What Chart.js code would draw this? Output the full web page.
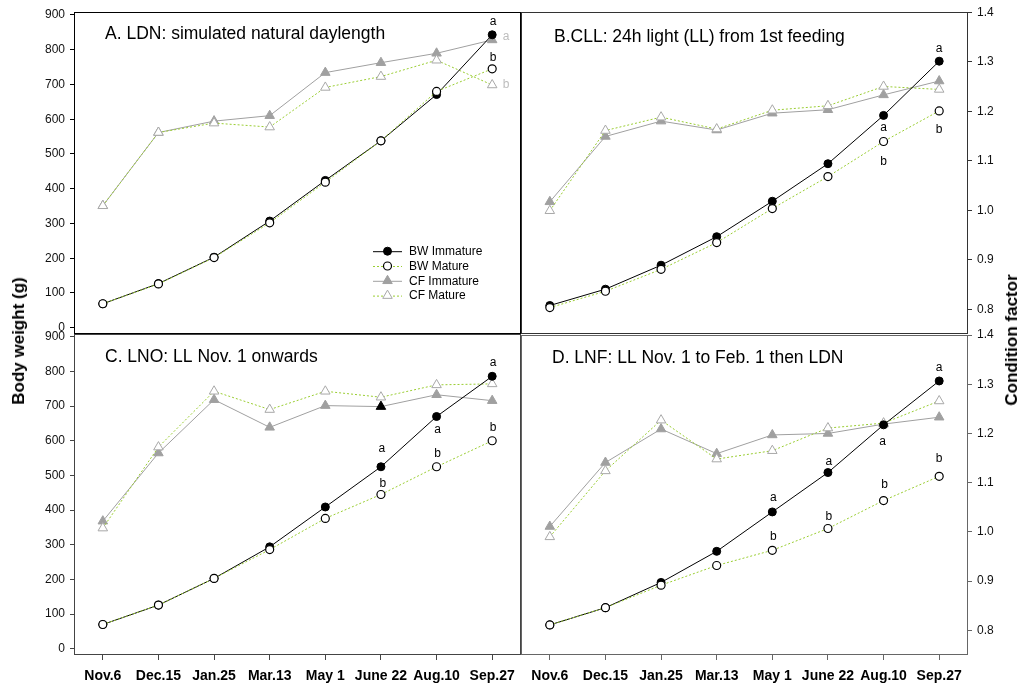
<!DOCTYPE html>
<html>
<head>
<meta charset="utf-8">
<title>Body weight and condition factor under four light regimes</title>
<script src="https://cdn.jsdelivr.net/npm/chart.js@4.4.1/dist/chart.umd.min.js"></script>
<style>
  html, body { margin: 0; padding: 0; background: #fff; }
  #wrap { position: relative; width: 1021px; height: 688px; overflow: hidden; background: #fff; }
  #wrap canvas { position: absolute; left: 0; top: 0; }
  .ytitle {
    position: absolute;
    font: bold 17px "Liberation Sans", Arial, Helvetica, sans-serif;
    color: #000;
    white-space: nowrap;
    transform: translate(-50%, -50%) rotate(-90deg);
  }
</style>
</head>
<body>
<div id="wrap">
  <canvas id="panelA" width="1021" height="688"></canvas>
  <canvas id="panelB" width="1021" height="688"></canvas>
  <canvas id="panelC" width="1021" height="688"></canvas>
  <canvas id="panelD" width="1021" height="688"></canvas>
  <div class="ytitle" style="left:19px; top:341px;">Body weight (g)</div>
  <div class="ytitle" style="left:1012px; top:340px;">Condition factor</div>
</div>
<script>
// Sampling dates (x categories)
const dates = ['Nov.6', 'Dec.15', 'Jan.25', 'Mar.13', 'May 1', 'June 22', 'Aug.10', 'Sep.27'];

// Axis ticks
const bwTicks = [0, 100, 200, 300, 400, 500, 600, 700, 800, 900];
const cfTicks = [0.8, 0.9, 1.0, 1.1, 1.2, 1.3, 1.4];

// A. LDN: simulated natural daylength
const ldnBwImmature = [69, 127, 203, 307, 424, 538, 671, 843];
const ldnBwMature   = [69, 126, 202, 302, 419, 538, 680, 745];
const ldnCfImmature = [1.009, 1.157, 1.180, 1.191, 1.278, 1.298, 1.317, 1.344];
const ldnCfMature   = [1.009, 1.157, 1.176, 1.168, 1.248, 1.270, 1.303, 1.253];

// B. CLL: 24h light from first feeding
const cllBwImmature = [64, 111, 180, 262, 364, 472, 611, 767];
const cllBwMature   = [58, 105, 168, 245, 343, 435, 536, 624];
const cllCfImmature = [1.017, 1.149, 1.180, 1.162, 1.196, 1.203, 1.233, 1.261];
const cllCfMature   = [0.999, 1.161, 1.188, 1.164, 1.202, 1.211, 1.250, 1.244];

// C. LNO: LL from Nov. 1 onwards
const lnoBwImmature = [70, 126, 203, 294, 409, 525, 670, 786];
const lnoBwMature   = [70, 126, 203, 286, 376, 445, 525, 600];
const lnoCfImmature = [1.021, 1.159, 1.267, 1.211, 1.255, 1.253, 1.277, 1.265];
const lnoCfMature   = [1.007, 1.171, 1.284, 1.247, 1.284, 1.272, 1.297, 1.299];

// D. LNF: LL Nov. 1 to Feb. 1, then LDN
const lnfBwImmature = [69, 119, 192, 282, 396, 510, 648, 775];
const lnfBwMature   = [69, 119, 184, 241, 285, 348, 429, 499];
const lnfCfImmature = [1.011, 1.141, 1.209, 1.159, 1.197, 1.200, 1.219, 1.233];
const lnfCfMature   = [0.990, 1.124, 1.227, 1.148, 1.165, 1.211, 1.221, 1.266];

// Significance letters: [series, date index, letter]
const ldnLetters = [['bwImm', 7, 'a'], ['bwMat', 7, 'b'], ['cfImm', 7, 'a'], ['cfMat', 7, 'b']];
const cllLetters = [['bwImm', 7, 'a'], ['bwImm', 6, 'a'], ['bwMat', 6, 'b'], ['bwMat', 7, 'b']];
const lnoLetters = [['bwImm', 5, 'a'], ['bwMat', 5, 'b'], ['bwImm', 6, 'a'], ['bwMat', 6, 'b'],
                    ['bwImm', 7, 'a'], ['bwMat', 7, 'b']];
const lnfLetters = [['bwImm', 4, 'a'], ['bwMat', 4, 'b'], ['bwImm', 5, 'a'], ['bwMat', 5, 'b'],
                    ['bwImm', 6, 'a'], ['bwMat', 6, 'b'], ['bwImm', 7, 'a'], ['bwMat', 7, 'b']];

// Series names for the legend
const seriesNames = { bwImm: 'BW Immature', bwMat: 'BW Mature', cfImm: 'CF Immature', cfMat: 'CF Mature' };

const FONT = '"Liberation Sans", Arial, Helvetica, sans-serif';
const W = 1021, H = 688;
const Y_AXIS_W = 40, X_AXIS_H = 33;
const GREEN = '#9acd32';
const GRAY = '#a0a0a0';

function buildDatasets(bwImm, bwMat, cfImm, cfMat, darkCfPoint) {
  const cfImmFill = cfImm.map((v, i) => (i === darkCfPoint ? '#000' : GRAY));
  return [
    { key: 'bwMat', label: seriesNames.bwMat, data: bwMat, yAxisID: 'bw', order: 1,
      borderColor: GREEN, borderWidth: 1, borderDash: [2, 2],
      pointStyle: 'circle', pointRadius: 4, pointBorderWidth: 1.2,
      pointBorderColor: '#000', pointBackgroundColor: '#fff' },
    { key: 'bwImm', label: seriesNames.bwImm, data: bwImm, yAxisID: 'bw', order: 2,
      borderColor: '#000', borderWidth: 1,
      pointStyle: 'circle', pointRadius: 4, pointBorderWidth: 1,
      pointBorderColor: '#000', pointBackgroundColor: '#000' },
    { key: 'cfMat', label: seriesNames.cfMat, data: cfMat, yAxisID: 'cf', order: 3,
      borderColor: GREEN, borderWidth: 1, borderDash: [2, 2],
      pointStyle: 'triangle', pointRadius: 5.5, pointBorderWidth: 1,
      pointBorderColor: '#a8a8a8', pointBackgroundColor: '#fff' },
    { key: 'cfImm', label: seriesNames.cfImm, data: cfImm, yAxisID: 'cf', order: 4,
      borderColor: GRAY, borderWidth: 1,
      pointStyle: 'triangle', pointRadius: 5.5, pointBorderWidth: 1,
      pointBorderColor: cfImmFill, pointBackgroundColor: cfImmFill }
  ].map(d => Object.assign({ tension: 0, fill: false, showLine: true, pointHoverRadius: 0 }, d));
}

// Frame, panel title, significance letters and (optional) legend
function decorPlugin(p) {
  return {
    id: 'panelDecor',
    afterDatasetsDraw(chart) {
      const ctx = chart.ctx;
      const a = chart.chartArea;
      const byKey = {};
      chart.data.datasets.forEach((d, i) => { byKey[d.key] = i; });
      ctx.save();

      // frame
      ctx.strokeStyle = p.frameColor;
      ctx.lineWidth = 1;
      ctx.setLineDash([]);
      ctx.strokeRect(Math.round(a.left) - 0.5, Math.round(a.top) + 0.5,
                     Math.round(a.right - a.left) + 1, Math.round(a.bottom - a.top) - 1);

      // title
      ctx.fillStyle = '#000';
      ctx.font = '17.5px ' + FONT;
      ctx.textAlign = 'left';
      ctx.textBaseline = 'alphabetic';
      ctx.fillText(p.title, a.left + p.titleDx, a.top + p.titleDy);

      // letters
      ctx.font = '12px ' + FONT;
      ctx.textAlign = 'center';
      ctx.textBaseline = 'middle';
      p.letters.forEach(([key, idx, txt], n) => {
        const pt = chart.getDatasetMeta(byKey[key]).data[idx];
        const off = p.letterOffsets[n];
        ctx.fillStyle = key.startsWith('cf') ? '#bdbdbd' : '#000';
        ctx.fillText(txt, pt.x + off[0], pt.y + off[1]);
      });

      // legend
      if (p.legend) {
        const x0 = a.left + 298, y0 = a.top + 239, step = 14.8;
        ['bwImm', 'bwMat', 'cfImm', 'cfMat'].forEach((key, r) => {
          const d = chart.data.datasets[byKey[key]];
          const y = y0 + r * step;
          ctx.strokeStyle = d.borderColor;
          ctx.lineWidth = d.borderWidth;
          ctx.setLineDash(d.borderDash || []);
          ctx.beginPath();
          ctx.moveTo(x0, y + 0.5);
          ctx.lineTo(x0 + 29, y + 0.5);
          ctx.stroke();
          ctx.setLineDash([]);
          const fill = Array.isArray(d.pointBackgroundColor) ? GRAY : d.pointBackgroundColor;
          const border = Array.isArray(d.pointBorderColor) ? GRAY : d.pointBorderColor;
          ctx.fillStyle = fill;
          ctx.strokeStyle = border;
          ctx.lineWidth = d.pointBorderWidth;
          Chart.helpers.drawPoint(ctx, {
            pointStyle: d.pointStyle, radius: d.pointRadius, rotation: 0, borderWidth: d.pointBorderWidth
          }, x0 + 14.5, y);
          ctx.fillStyle = '#000';
          ctx.font = '12px ' + FONT;
          ctx.textAlign = 'left';
          ctx.textBaseline = 'middle';
          ctx.fillText(d.label, x0 + 36, y + 0.5);
        });
      }
      ctx.restore();
    }
  };
}

function makePanel(id, p) {
  const area = p.area;
  const padding = {
    left: p.leftAxis ? area.left - Y_AXIS_W : area.left,
    right: p.rightAxis ? W - area.right - Y_AXIS_W : W - area.right,
    top: area.top,
    bottom: p.bottomAxis ? H - area.bottom - X_AXIS_H : H - area.bottom
  };
  const tickFont = { family: FONT, size: 12 };
  // fixed sizes for the visible axes only; hidden axes take no room
  const fixHeight = shown => (shown ? (s => { s.height = X_AXIS_H; }) : (s => { s.height = 0; }));
  const fixWidth = shown => (shown ? (s => { s.width = Y_AXIS_W; }) : (s => { s.width = 0; }));
  new Chart(document.getElementById(id), {
    type: 'line',
    data: { labels: dates, datasets: buildDatasets(p.bwImm, p.bwMat, p.cfImm, p.cfMat, p.darkCfPoint) },
    options: {
      responsive: false,
      animation: false,
      events: [],
      layout: { padding },
      plugins: { legend: { display: false }, tooltip: { enabled: false }, title: { display: false } },
      scales: {
        x: {
          type: 'category',
          offset: true,
          display: p.bottomAxis,
          border: { display: false },
          grid: { display: true, drawOnChartArea: false, drawTicks: true, tickLength: 5, color: p.frameColor },
          ticks: { font: { family: FONT, size: 14, weight: 'bold' }, color: '#000', padding: 8,
                   maxRotation: 0, autoSkip: false },
          afterFit: fixHeight(p.bottomAxis)
        },
        bw: {
          type: 'linear',
          position: 'left',
          display: p.leftAxis,
          min: -18, max: 908,
          border: { display: false },
          grid: { display: true, drawOnChartArea: false, drawTicks: true, tickLength: 5, color: p.frameColor },
          afterBuildTicks: s => { s.ticks = bwTicks.map(v => ({ value: v })); },
          ticks: { font: tickFont, color: '#111', padding: 5, callback: v => String(v) },
          afterFit: fixWidth(p.leftAxis)
        },
        cf: {
          type: 'linear',
          position: 'right',
          display: p.rightAxis,
          min: 0.75, max: 1.4,
          border: { display: false },
          grid: { display: true, drawOnChartArea: false, drawTicks: true, tickLength: 5, color: p.frameColor },
          afterBuildTicks: s => { s.ticks = cfTicks.map(v => ({ value: v })); },
          ticks: { font: tickFont, color: '#111', padding: 5, callback: v => Number(v).toFixed(1) },
          afterFit: fixWidth(p.rightAxis)
        }
      }
    },
    plugins: [decorPlugin(p)]
  });
}

makePanel('panelA', {
  bwImm: ldnBwImmature, bwMat: ldnBwMature, cfImm: ldnCfImmature, cfMat: ldnCfMature,
  title: 'A. LDN: simulated natural daylength', titleDx: 30, titleDy: 26.5,
  area: { left: 75, top: 12, right: 520, bottom: 334 },
  leftAxis: true, rightAxis: false, bottomAxis: false, frameColor: '#000', legend: true,
  letters: ldnLetters, letterOffsets: [[1, -13], [1, -11.5], [14, -3], [14, 0]]
});

makePanel('panelB', {
  bwImm: cllBwImmature, bwMat: cllBwMature, cfImm: cllCfImmature, cfMat: cllCfMature,
  title: 'B.CLL: 24h light (LL) from 1st feeding', titleDx: 32, titleDy: 29.5,
  area: { left: 522, top: 12, right: 967, bottom: 334 },
  leftAxis: false, rightAxis: true, bottomAxis: false, frameColor: '#333', legend: false,
  letters: cllLetters, letterOffsets: [[0, -13], [0, 12.5], [0, 20], [0, 18.5]]
});

makePanel('panelC', {
  bwImm: lnoBwImmature, bwMat: lnoBwMature, cfImm: lnoCfImmature, cfMat: lnoCfMature, darkCfPoint: 5,
  title: 'C. LNO: LL Nov. 1 onwards', titleDx: 30, titleDy: 27.5,
  area: { left: 75, top: 334, right: 520, bottom: 655 },
  leftAxis: true, rightAxis: false, bottomAxis: true, frameColor: '#444', legend: false,
  letters: lnoLetters, letterOffsets: [[1, -18], [2, -11], [1, 13.5], [1, -13], [1, -14], [1, -13]]
});

makePanel('panelD', {
  bwImm: lnfBwImmature, bwMat: lnfBwMature, cfImm: lnfCfImmature, cfMat: lnfCfMature,
  title: 'D. LNF: LL Nov. 1 to Feb. 1 then LDN', titleDx: 30, titleDy: 27.5,
  area: { left: 522, top: 335, right: 967, bottom: 655 },
  leftAxis: false, rightAxis: true, bottomAxis: true, frameColor: '#666', legend: false,
  letters: lnfLetters, letterOffsets: [[1, -14], [1, -13.5], [1, -11], [1, -12], [-1, 16.5], [1, -16], [0, -13], [0, -18]]
});
</script>
</body>
</html>
